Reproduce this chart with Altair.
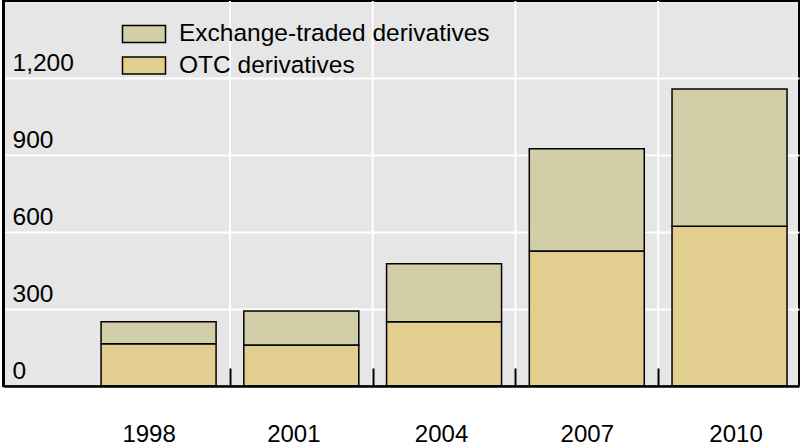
import altair as alt
import pandas as pd

years = [1998, 2001, 2004, 2007, 2010]
otc = [165, 160, 250, 526, 622]
exchange = [85, 132, 226, 398, 535]
series = ["Exchange-traded derivatives", "OTC derivatives"]
colors = ["#d1cea8", "#e2cf90"]
boundaries = [1999.5, 2002.5, 2005.5, 2008.5]
y_ticks = [0, 300, 600, 900, 1200]
label_shift = [-10, -8, -3, 0, 6]  # horizontal nudge of each year label (px)

rows = []
for yr, o, e in zip(years, otc, exchange):
    rows.append({"year": yr, "series": series[1], "value": o, "rank": 0})
    rows.append({"year": yr, "series": series[0], "value": e, "rank": 1})
df = pd.DataFrame(rows)
bdf = pd.DataFrame({"b": boundaries})

FONT = "Liberation Sans"
xscale = alt.Scale(domain=[1994.73, 2011.46], nice=False, zero=False, padding=0)

label_offset = {
    "condition": [{"test": f"datum.value == {yr}", "value": s}
                  for yr, s in zip(years[:-1], label_shift[:-1])],
    "value": label_shift[-1],
}

grid = alt.Chart(bdf).mark_rule(color="white", strokeWidth=2).encode(
    x=alt.X("b:Q", scale=xscale,
            axis=alt.Axis(orient="bottom", values=boundaries, labels=False, grid=False,
                          domain=False, ticks=True, tickSize=18, tickColor="black",
                          tickWidth=2, offset=-18, title=None, zindex=1))
)

bars = alt.Chart(df).mark_bar(size=115, stroke="black", strokeWidth=1.5).encode(
    x=alt.X("year:Q", scale=xscale,
            axis=alt.Axis(orient="bottom", values=years, format="d", grid=False, ticks=False,
                          tickSize=0, labelPadding=36, labelFontSize=24, labelColor="black",
                          labelFont=FONT, labelOffset=label_offset,
                          domain=True, domainColor="black", domainWidth=2.5,
                          title=None, zindex=1)),
    y=alt.Y("value:Q", stack="zero", scale=alt.Scale(domain=[0, 1500], nice=False),
            axis=alt.Axis(values=y_ticks, format=",d", grid=True, gridColor="white",
                          gridWidth=2, ticks=False, tickSize=0, labelAlign="left",
                          labelPadding=-9, labelBaseline="alphabetic", labelOffset=-8,
                          labelFontSize=24.5, labelColor="black", labelFont=FONT,
                          domain=True, domainColor="black", domainWidth=3, title=None)),
    color=alt.Color("series:N", scale=alt.Scale(domain=series, range=colors),
                    legend=alt.Legend(orient="none", legendX=123, legendY=15, title=None,
                                      labelFontSize=24.5, labelFont=FONT, labelColor="black",
                                      labelLimit=0,
                                      symbolType="M-1.265,-0.5H1.265V0.5H-1.265Z",
                                      symbolSize=1156, symbolStrokeColor="black",
                                      symbolStrokeWidth=1.5, symbolOpacity=1,
                                      labelOffset=17, rowPadding=1.5, padding=0)),
    order=alt.Order("rank:Q"),
)

chart = alt.layer(grid, bars).resolve_axis(x="independent").properties(
    width=796, height=385,
    autosize=alt.AutoSizeParams(type="none"),
    padding={"left": 3, "top": 1, "right": 2, "bottom": 62},
    background="white",
).configure_view(fill="#e6e6e6", stroke="black", strokeWidth=2)

chart.save("out.html", embed_options={"renderer": "svg", "actions": False})
